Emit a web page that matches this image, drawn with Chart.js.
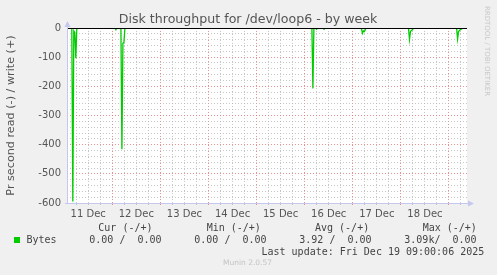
<!DOCTYPE html>
<html><head><meta charset="utf-8">
<script src="https://cdn.jsdelivr.net/npm/chart.js@4"></script>
<style>html,body{margin:0;padding:0;background:#f0f0f0;}canvas{display:block;}</style>
</head><body>
<canvas id="c" width="497" height="275"></canvas>
<script>
// ---- data ----
const chartTitle = "Disk throughput for /dev/loop6 - by week";
const yAxisTitle = "Pr second read (-) / write (+)";
const dayLabels = ["11 Dec","12 Dec","13 Dec","14 Dec","15 Dec","16 Dec","17 Dec","18 Dec"];
// hours since 11 Dec 00:00
const readHours  = [1.4, 3.8, 4.3, 4.8, 5.3, 5.8, 6.3, 25.3, 25.8, 26.3, 28.3, 28.8, 29.3, 29.8, 30.3,
                    123.6, 124.1, 124.6, 125.4, 125.9, 126.4, 129.2, 129.7, 130.2,
                    148.3, 148.8, 149.3, 149.8, 150.3, 150.8,
                    171.8, 172.3, 172.8, 173.3, 173.8, 174.3,
                    195.8, 196.3, 196.8, 197.3, 197.8, 198.3, 198.8, 201];
const readValues = [0, 0, -595, -10, -15, -104, 0, 0, -6, 0, 0, -416, -52, -50, 0,
                    0, -207, 0, 0, -4, 0, 0, -4, 0,
                    0, -18, -10, -12, -4, 0,
                    0, -39, -12, -8, -6, 0,
                    0, -38, -12, -8, -5, -3, 0, 0];
const xMin = 1.4, xMax = 201;
const yMin = -600, yMax = 0;
const legendHeaders = ["Cur (-/+)", "Min (-/+)", "Avg (-/+)", "Max (-/+)"];
const seriesName = "Bytes";
const legendValues = ["0.00 /  0.00", "0.00 /  0.00", "3.92 /  0.00", "3.09k/  0.00"];
const lastUpdate = "Last update: Fri Dec 19 09:00:06 2025";
const footerText = "Munin 2.0.57";
const sideText = "RRDTOOL / TOBI OETIKER";

const GREEN = '#00cc00';
const AXIS = '#c4c8ee';
const MAJOR = 'rgba(225,110,110,0.75)';
const MINOR = 'rgba(175,175,175,0.7)';

const points = readHours.map((h, i) => ({x: h, y: readValues[i]}));

const decor = {
  id: 'decor',
  beforeDraw(chart) {
    const {ctx, chartArea: a} = chart;
    ctx.save();
    ctx.fillStyle = '#f0f0f0';
    ctx.fillRect(0, 0, chart.width, chart.height);
    ctx.fillStyle = '#ffffff';
    ctx.fillRect(a.left, a.top, a.right - a.left, a.bottom - a.top);
    ctx.restore();
  },
  afterDraw(chart) {
    const {ctx, chartArea: a, scales} = chart;
    ctx.save();
    // zero line
    const y0 = Math.round(scales.y.getPixelForValue(0)) + 0.5;
    ctx.strokeStyle = '#000';
    ctx.lineWidth = 1;
    ctx.beginPath(); ctx.moveTo(a.left, y0); ctx.lineTo(a.right, y0); ctx.stroke();
    // axes
    ctx.strokeStyle = AXIS;
    ctx.beginPath(); ctx.moveTo(a.left + 0.5, a.bottom); ctx.lineTo(a.left + 0.5, 25); ctx.stroke();
    ctx.beginPath(); ctx.moveTo(a.left - 2, a.bottom + 0.5); ctx.lineTo(a.right + 2, a.bottom + 0.5); ctx.stroke();
    ctx.fillStyle = AXIS;
    ctx.beginPath(); ctx.moveTo(a.left + 0.5, 21); ctx.lineTo(a.left - 2.5, 27); ctx.lineTo(a.left + 3.5, 27); ctx.closePath(); ctx.fill();
    ctx.beginPath(); ctx.moveTo(a.right + 7, a.bottom + 0.5); ctx.lineTo(a.right + 1, a.bottom - 2.5); ctx.lineTo(a.right + 1, a.bottom + 3.5); ctx.closePath(); ctx.fill();
    // title
    ctx.fillStyle = '#555';
    ctx.font = '12.6px "DejaVu Sans"';
    ctx.textAlign = 'center'; ctx.textBaseline = 'middle';
    ctx.fillText(chartTitle, 248, 19.5);
    // y title
    ctx.save();
    ctx.translate(11, 115.5);
    ctx.rotate(-Math.PI / 2);
    ctx.font = '11.2px "DejaVu Sans"';
    ctx.fillText(yAxisTitle, 0, 0);
    ctx.restore();
    // side text
    ctx.save();
    ctx.translate(487, 51);
    ctx.rotate(Math.PI / 2);
    ctx.fillStyle = '#c8c8c8';
    ctx.font = '7px "DejaVu Sans"';
    ctx.fillText(sideText, 0, 0);
    ctx.restore();
    // legend
    ctx.fillStyle = '#444';
    ctx.font = '10px "DejaVu Sans Mono"';
    ctx.textAlign = 'left';
    const hx = [98.3, 206.7, 315, 422.7];
    legendHeaders.forEach((t, i) => ctx.fillText(t, hx[i], 228));
    const vx = [89.3, 194.3, 299.3, 404.3];
    legendValues.forEach((t, i) => ctx.fillText(t, vx[i], 240));
    ctx.fillText(seriesName, 26.5, 240);
    ctx.fillText(lastUpdate, 261.5, 252);
    ctx.fillStyle = GREEN;
    ctx.fillRect(14, 237, 6, 6);
    ctx.fillStyle = '#c4c4c4';
    ctx.font = '7.5px "DejaVu Sans"';
    ctx.textAlign = 'center';
    ctx.fillText(footerText, 247.5, 263.5);
    ctx.restore();
  }
};

new Chart(document.getElementById('c'), {
  type: 'line',
  data: {
    datasets: [{
      label: seriesName,
      data: points,
      borderColor: GREEN,
      borderWidth: 1.3,
      pointRadius: 0,
      tension: 0,
      fill: false,
      clip: 0
    }]
  },
  options: {
    responsive: false,
    animation: false,
    parsing: true,
    layout: {padding: {top: 28, right: 30, left: 0, bottom: 0}},
    plugins: {legend: {display: false}, title: {display: false}, tooltip: {enabled: false}},
    scales: {
      x: {
        type: 'linear', min: xMin, max: xMax,
        afterFit(s) { s.height = 72; },
        afterBuildTicks(s) {
          const t = [];
          for (let h = 6; h <= 198; h += 6) t.push({value: h});
          s.ticks = t;
        },
        ticks: {
          autoSkip: false, maxRotation: 0, minRotation: 0, padding: 3,
          color: '#555', font: {family: 'DejaVu Sans', size: 10},
          callback: (v) => (v % 24 === 12 ? dayLabels[(v - 12) / 24] : '')
        },
        grid: {
          drawTicks: true, tickLength: 2,
          color: (c) => (c.tick && c.tick.value % 24 === 0 ? MAJOR : MINOR),
          lineWidth: 1
        },
        border: {display: false, dash: [1, 2]}
      },
      y: {
        type: 'linear', min: yMin, max: yMax,
        afterFit(s) { s.width = 67; },
        ticks: {
          stepSize: 20, autoSkip: false, padding: 6,
          color: '#555', font: {family: 'DejaVu Sans', size: 10},
          callback: (v) => (v % 100 === 0 ? String(v) : '')
        },
        grid: {
          drawTicks: false,
          color: (c) => {
            const v = c.tick ? c.tick.value : 1;
            if (v === 0 || v === -600) return 'rgba(0,0,0,0)';
            return v % 100 === 0 ? MAJOR : MINOR;
          },
          lineWidth: 1
        },
        border: {display: false, dash: [1, 2]}
      }
    }
  },
  plugins: [decor]
});
</script>
</body></html>
